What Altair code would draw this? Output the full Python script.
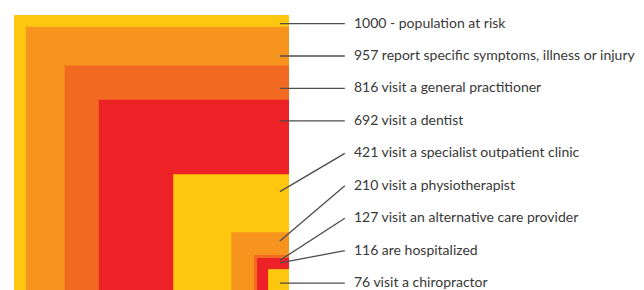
import altair as alt
import pandas as pd

values = [1000, 957, 816, 692, 421, 210, 127, 116, 76]
descriptions = [
    "- population at risk",
    "report specific symptoms, illness or injury",
    "visit a general practitioner",
    "visit a dentist",
    "visit a specialist outpatient clinic",
    "visit a physiotherapist",
    "visit an alternative care provider",
    "are hospitalized",
    "visit a chiropractor",
]
palette = ["#FDC70F", "#F7941E", "#F26A22", "#EC2227"]

W, H = 628, 282
XMIN, XMAX = -22, 2262
YMAX = 1025.5
RIGHT = 1000

rows = []
for i, (v, d) in enumerate(zip(values, descriptions)):
    label_y = 969 - 118 * i
    start_y = label_y if label_y < v else v * 0.85
    rows.append({
        "order": i,
        "value": v,
        "label": f"{v} {d}",
        "x": RIGHT - v, "x2": RIGHT,
        "y": 0, "y2": v,
        "color": palette[i % 4],
        "lx": RIGHT - 33, "lx2": 1203,
        "ly": start_y, "ly2": label_y,
        "tx": 1236, "ty": label_y,
    })
df = pd.DataFrame(rows)

xs = alt.Scale(domain=[XMIN, XMAX], nice=False, zero=False)
ys = alt.Scale(domain=[0, YMAX], nice=False, zero=False)

squares = alt.Chart(df).mark_rect().encode(
    x=alt.X("x:Q", scale=xs, axis=None),
    x2="x2:Q",
    y=alt.Y("y:Q", scale=ys, axis=None),
    y2="y2:Q",
    color=alt.Color("color:N", scale=None),
    order=alt.Order("order:Q"),
)

leaders = alt.Chart(df).mark_rule(color="#4d4d4d", strokeWidth=1.3).encode(
    x=alt.X("lx:Q", scale=xs, axis=None),
    x2="lx2:Q",
    y=alt.Y("ly:Q", scale=ys, axis=None),
    y2="ly2:Q",
)

labels = alt.Chart(df).mark_text(
    align="left", baseline="middle", font="Lato", fontSize=14, color="#383838"
).encode(
    x=alt.X("tx:Q", scale=xs, axis=None),
    y=alt.Y("ty:Q", scale=ys, axis=None),
    text="label:N",
)

chart = alt.layer(squares, leaders, labels).properties(
    width=W, height=H, padding=0, autosize=alt.AutoSizeParams(type="none")
).configure_view(stroke=None)

chart.save("out.html", embed_options={"renderer": "svg", "actions": False})
